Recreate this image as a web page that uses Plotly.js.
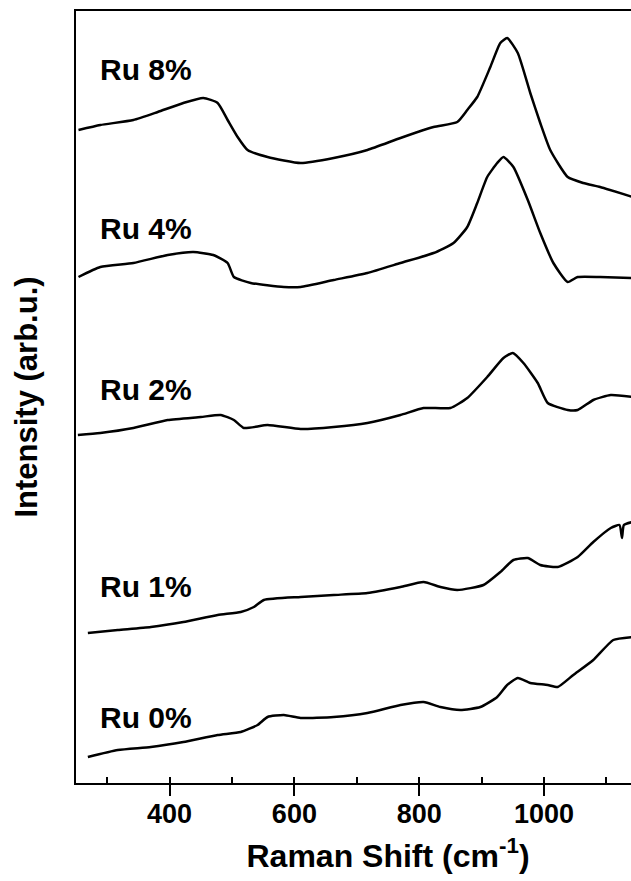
<!DOCTYPE html>
<html>
<head>
<meta charset="utf-8">
<script src="https://cdn.plot.ly/plotly-3.0.1.min.js"></script>
<style>
html, body { margin: 0; padding: 0; overflow: hidden; background: #fff; }
#wrap { width: 631px; height: 881px; overflow: hidden; }
#plot { width: 720px; height: 881px; }
</style>
</head>
<body>
<div id="wrap"><div id="plot"></div></div>
<script>
// Raman shift (cm^-1) and intensity (arb.u., stacked with offsets)
const ru8_x = [254, 289, 342, 381, 422, 454, 477, 493, 509, 525, 557, 610, 663, 717, 770, 823, 861, 877, 893, 914, 930, 941, 958, 978, 994, 1010, 1038, 1063, 1090, 1142];
const ru8_y = [653, 658, 663, 671, 680, 685, 680, 663, 646, 633, 626, 620, 625, 633, 645, 656, 661, 673, 686, 716, 740, 745, 730, 690, 660, 633, 606, 600, 596, 586];

const ru4_x = [254, 289, 342, 397, 438, 470, 493, 503, 530, 583, 610, 663, 717, 770, 823, 855, 877, 893, 909, 925, 935, 951, 974, 994, 1015, 1038, 1054, 1090, 1142];
const ru4_y = [506, 516, 520, 528, 531, 528, 520, 506, 500, 496, 496, 503, 510, 520, 530, 540, 556, 580, 606, 620, 626, 616, 583, 550, 520, 501, 506, 506, 505];

const ru2_x = [253, 289, 342, 397, 450, 482, 503, 519, 557, 610, 663, 717, 770, 807, 850, 877, 909, 935, 950, 967, 990, 1006, 1038, 1054, 1079, 1107, 1142];
const ru2_y = [348, 350, 355, 363, 366, 368, 363, 355, 358, 354, 356, 360, 368, 375, 375, 385, 406, 425, 430, 420, 400, 380, 373, 373, 383, 388, 386];

const ru1_x = [269, 317, 370, 422, 477, 514, 535, 551, 610, 663, 717, 770, 807, 834, 861, 903, 930, 951, 974, 994, 1022, 1054, 1079, 1107, 1121, 1125, 1128, 1142];
const ru1_y = [150, 153, 156, 161, 168, 171, 176, 183, 186, 188, 190, 196, 201, 196, 193, 198, 211, 223, 225, 218, 216, 226, 241, 255, 258, 245, 258, 261];

const ru0_x = [269, 317, 370, 422, 477, 514, 541, 557, 583, 610, 663, 717, 770, 807, 834, 866, 898, 925, 941, 958, 978, 1006, 1022, 1047, 1079, 1111, 1142];
const ru0_y = [26, 33, 36, 41, 48, 51, 58, 66, 68, 65, 66, 70, 78, 81, 76, 73, 76, 86, 98, 105, 100, 98, 96, 108, 123, 143, 146];

const labels = ["Ru 8%", "Ru 4%", "Ru 2%", "Ru 1%", "Ru 0%"];
const label_x = [285, 285, 285, 285, 285];
const label_y = [714, 555, 394, 197, 66];

const x_ticks = [400, 600, 800, 1000];
const x_ticktext = ["400", "600", "800", "1000"];

const xTitle = "Raman Shift (cm<sup>-1</sup>)";
const yTitle = "Intensity (arb.u.)";

const FONT = "Liberation Sans, Arial, sans-serif";
const series = [[ru8_x, ru8_y], [ru4_x, ru4_y], [ru2_x, ru2_y], [ru1_x, ru1_y], [ru0_x, ru0_y]];
const traces = series.map((s, i) => ({
  type: "scatter", mode: "lines", x: s[0], y: s[1], name: labels[i],
  line: { color: "#000", width: 2.5, shape: "spline", smoothing: 0.5 }, hoverinfo: "skip"
}));

const annotations = labels.map((t, i) => ({
  text: t, x: label_x[i], y: label_y[i], xref: "x", yref: "y",
  xanchor: "left", yanchor: "middle", showarrow: false,
  font: { family: FONT, size: 30, color: "#000", weight: 700 }
}));

const layout = {
  width: 720, height: 881,
  margin: { l: 76, r: 20, t: 11, b: 98 },
  paper_bgcolor: "#fff", plot_bgcolor: "#fff",
  showlegend: false,
  font: { family: FONT, color: "#000" },
  xaxis: {
    range: [250, 1250], showgrid: false, zeroline: false,
    showline: true, linecolor: "#000", linewidth: 2, mirror: true,
    ticks: "outside", ticklen: 11, tickwidth: 2, tickcolor: "#000",
    tickmode: "array", tickvals: x_ticks, ticktext: x_ticktext,
    ticklabelstandoff: -5,
    tickfont: { family: FONT, size: 27, color: "#000", weight: 700 },
    minor: { tickmode: "linear", dtick: 100, tick0: 300, ticks: "inside", ticklen: 6, tickwidth: 2, tickcolor: "#000", showgrid: false },
    title: { text: xTitle, font: { family: FONT, size: 32, color: "#000", weight: 700 }, standoff: 16 }
  },
  yaxis: {
    range: [0, 772], showgrid: false, zeroline: false,
    showline: true, linecolor: "#000", linewidth: 2, mirror: true,
    ticks: "", showticklabels: false,
    title: { text: yTitle, font: { family: FONT, size: 31, color: "#000", weight: 700 }, standoff: 27 }
  },
  annotations: annotations
};

Plotly.newPlot("plot", traces, layout, { displayModeBar: false, staticPlot: true });
</script>
</body>
</html>
